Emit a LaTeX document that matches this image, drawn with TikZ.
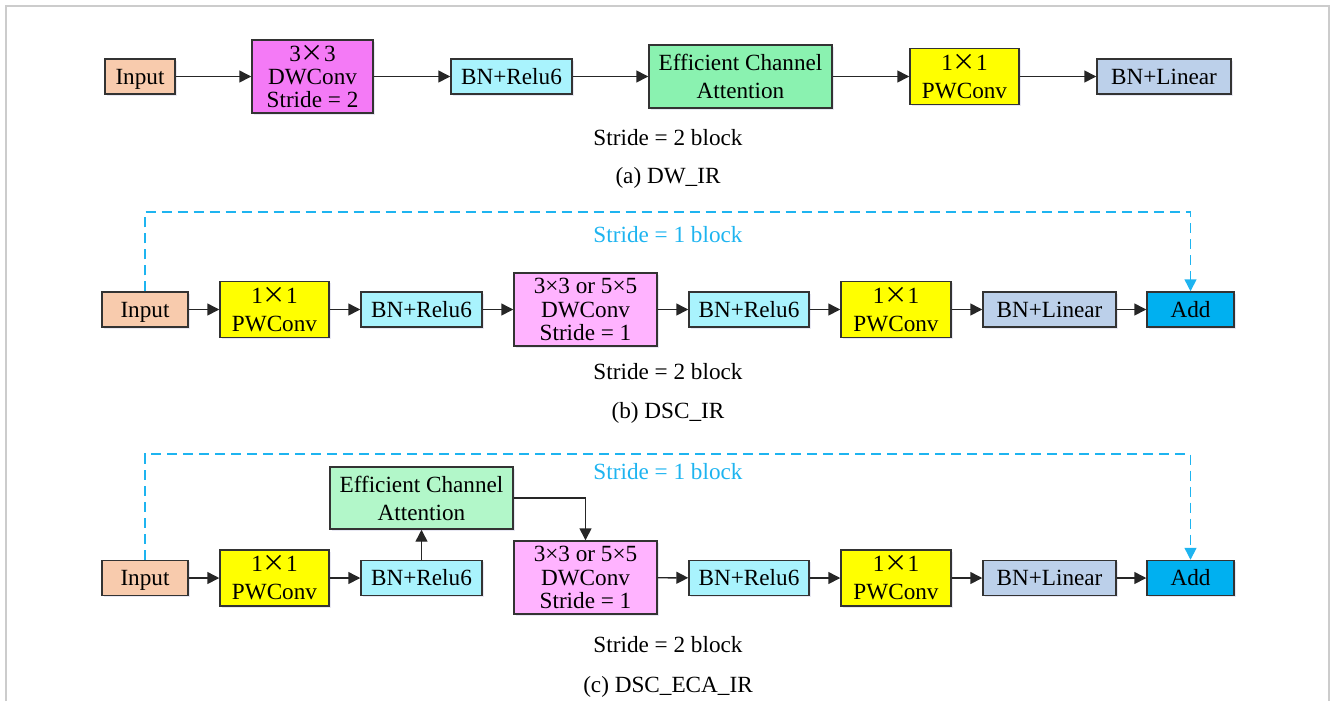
\documentclass[tikz,border=0pt]{standalone}
\usepackage{fontspec}
\setmainfont{Liberation Serif}
\newfontfamily\cjk[RawFeature=+fwid]{Noto Sans CJK SC}
\usetikzlibrary{arrows.meta,shadows}

\definecolor{cInput}{HTML}{F8CBAD}
\definecolor{cDWa}{HTML}{F47AF6}
\definecolor{cDW}{HTML}{FFB3FF}
\definecolor{cBN}{HTML}{A9F3FD}
\definecolor{cECAa}{HTML}{8AF2B0}
\definecolor{cECA}{HTML}{B2F7C9}
\definecolor{cPW}{HTML}{FFFF00}
\definecolor{cLin}{HTML}{BCD0EA}
\definecolor{cAdd}{HTML}{00B0F0}
\definecolor{cSkip}{HTML}{1EB4F0}
\definecolor{cFrame}{HTML}{CCCCCC}
\definecolor{cEdge}{HTML}{333333}

\newcommand{\mx}{{\cjk ×}}

\tikzset{
  every node/.style={font=\fontsize{17.4}{17.5}\selectfont},
  wh/.style 2 args={minimum width=#1*0.75pt, minimum height=#2*0.75pt},
  blk/.style={draw=cEdge, line width=1.1pt, inner sep=0pt, align=center,
    drop shadow={opacity=0.3, fill=blue!30!gray!45, shadow xshift=1.3pt, shadow yshift=-1.3pt}},
  one/.style={text height=11.5pt, text depth=0pt},
  two/.style={font=\fontsize{17.4}{21}\selectfont},
  flow/.style={draw=black!85, line width=1.1pt, -{Triangle[length=9pt,width=9pt]}},
  skip/.style={draw=cSkip, line width=1.1pt, dash pattern=on 7.5pt off 4.5pt,
    -{Triangle[length=9pt,width=9pt]}},
  lbl/.style={inner sep=0pt},
}

\begin{document}
\begin{tikzpicture}[x=0.75pt, y=-0.75pt]
  \useasboundingbox (0,0) rectangle (1330,701);
  % outer frame (open at the bottom)
  \draw[cFrame, line width=1.1pt] (6,701) -- (6,6) -- (1329,6) -- (1329,701);

  % ---------- (a) DW_IR ----------
  \node[blk, one, fill=cInput, wh={70}{35}]  (inA)  at (140,76.5)   {Input};
  \node[blk, fill=cDWa,   wh={121}{73}] (dwA)  at (312.5,76.5) {3\mx3\\DWConv\\Stride = 2};
  \node[blk, one, fill=cBN,    wh={121}{35}] (bnA)  at (511.5,76.5) {BN+Relu6};
  \node[blk, two, fill=cECAa,  wh={183}{63}] (ecaA) at (740.5,76.5) {Efficient Channel\\Attention};
  \node[blk, two, fill=cPW,    wh={109}{56}] (pwA)  at (964.5,76.5) {1\mx1\\PWConv};
  \node[blk, one, fill=cLin,   wh={134}{35}] (blA)  at (1164,76.5)  {BN+Linear};
  \draw[flow] (inA) -- (dwA);
  \draw[flow] (dwA) -- (bnA);
  \draw[flow] (bnA) -- (ecaA);
  \draw[flow] (ecaA) -- (pwA);
  \draw[flow] (pwA) -- (blA);
  \node[lbl] (s2A) at (668,138) {Stride = 2 block};
  \node[lbl] (capA) at (668,178) {(a) DW\_IR};

  % ---------- (b) DSC_IR ----------
  \node[blk, one, fill=cInput, wh={86}{35}]  (inB)  at (145,309.5)    {Input};
  \node[blk, two, fill=cPW,    wh={109}{56}] (pwB)  at (274.5,309.5)  {1\mx1\\PWConv};
  \node[blk, one, fill=cBN,    wh={121}{35}] (bnB)  at (421.5,309.5)  {BN+Relu6};
  \node[blk, fill=cDW,    wh={143}{73}] (dwB)  at (585.5,309.5)  {3×3 or 5×5\\DWConv\\Stride = 1};
  \node[blk, one, fill=cBN,    wh={120}{35}] (bn2B) at (749,309.5)    {BN+Relu6};
  \node[blk, two, fill=cPW,    wh={110}{56}] (pw2B) at (896,309.5)    {1\mx1\\PWConv};
  \node[blk, one, fill=cLin,   wh={133}{35}] (blB)  at (1049.5,309.5) {BN+Linear};
  \node[blk, one, fill=cAdd,   wh={87}{35}]  (addB) at (1190.5,309.5) {Add};
  \draw[flow] (inB) -- (pwB);
  \draw[flow] (pwB) -- (bnB);
  \draw[flow] (bnB) -- (dwB);
  \draw[flow] (dwB) -- (bn2B);
  \draw[flow] (bn2B) -- (pw2B);
  \draw[flow] (pw2B) -- (blB);
  \draw[flow] (blB) -- (addB);
  \coordinate (lvlB) at (0,212);
  \draw[skip] (inB.north) -- (inB.north |- lvlB) -| (addB.north);
  \node[lbl, text=cSkip] (s1B) at (668,235) {Stride = 1 block};
  \node[lbl] (s2B) at (668,372) {Stride = 2 block};
  \node[lbl] (capB) at (668,413) {(b) DSC\_IR};

  % ---------- (c) DSC_ECA_IR ----------
  \node[blk, one, fill=cInput, wh={86}{35}]  (inC)  at (145,578)    {Input};
  \node[blk, two, fill=cPW,    wh={109}{56}] (pwC)  at (274.5,578)  {1\mx1\\PWConv};
  \node[blk, one, fill=cBN,    wh={121}{35}] (bnC)  at (421.5,578)  {BN+Relu6};
  \node[blk, two, fill=cECA,   wh={183}{62}] (ecaC) at (421.5,498)  {Efficient Channel\\Attention};
  \node[blk, fill=cDW,    wh={143}{73}] (dwC)  at (585.5,577.5) {3×3 or 5×5\\DWConv\\Stride = 1};
  \node[blk, one, fill=cBN,    wh={120}{35}] (bn2C) at (749,578)    {BN+Relu6};
  \node[blk, two, fill=cPW,    wh={110}{56}] (pw2C) at (896,578)    {1\mx1\\PWConv};
  \node[blk, one, fill=cLin,   wh={133}{35}] (blC)  at (1049.5,578) {BN+Linear};
  \node[blk, one, fill=cAdd,   wh={87}{35}]  (addC) at (1190.5,578) {Add};
  \draw[flow] (inC) -- (pwC);
  \draw[flow] (pwC) -- (bnC);
  \draw[flow] (bnC) -- (ecaC);
  \draw[flow] (ecaC.east) -| (dwC.north);
  \draw[flow] (dwC) -- (bn2C);
  \draw[flow] (bn2C) -- (pw2C);
  \draw[flow] (pw2C) -- (blC);
  \draw[flow] (blC) -- (addC);
  \coordinate (lvlC) at (0,454);
  \draw[skip] (inC.north) -- (inC.north |- lvlC) -| (addC.north);
  \node[lbl, text=cSkip] (s1C) at (668,472) {Stride = 1 block};
  \node[lbl] (s2C) at (668,645) {Stride = 2 block};
  \node[lbl] (capC) at (668,687) {(c) DSC\_ECA\_IR};
\end{tikzpicture}
\end{document}
